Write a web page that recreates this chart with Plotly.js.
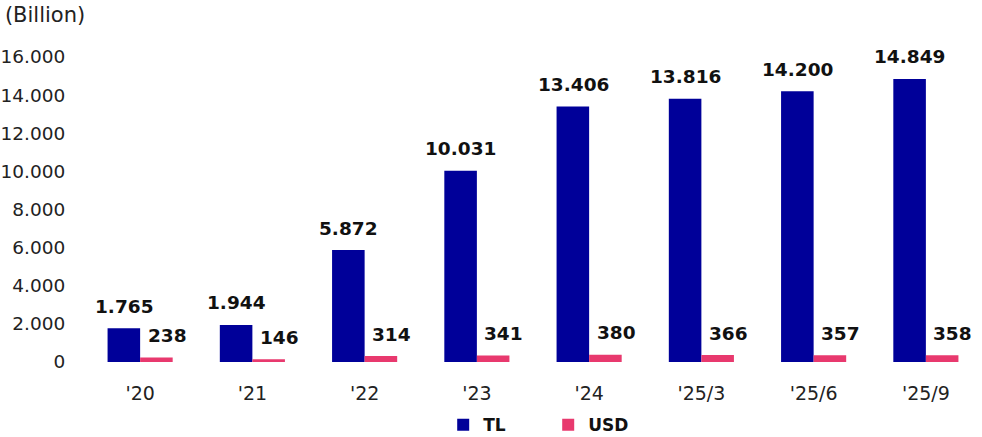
<!DOCTYPE html>
<html>
<head>
<meta charset="utf-8">
<script src="https://cdn.plot.ly/plotly-3.0.1.min.js"></script>
<style>html,body{margin:0;padding:0;background:#fff;}#chart{width:982px;height:437px;}</style>
</head>
<body>
<div id="chart"></div>
<script>
const categories = ["'20", "'21", "'22", "'23", "'24", "'25/3", "'25/6", "'25/9"];
const tlValues = [1765, 1944, 5872, 10031, 13406, 13816, 14200, 14849];
const usdValues = [238, 146, 314, 341, 380, 366, 357, 358];
const yTickVals = [0, 2000, 4000, 6000, 8000, 10000, 12000, 14000, 16000];

const FONT = "DejaVu Sans, Verdana, sans-serif";
const TL_COLOR = "#000099";
const USD_COLOR = "#E8396E";

function fmt(v) {
  return String(v).replace(/\B(?=(\d{3})+(?!\d))/g, ".");
}

const traces = [
  {type: "bar", name: "TL", x: categories, y: tlValues, marker: {color: TL_COLOR}, hoverinfo: "none"},
  {type: "bar", name: "USD", x: categories, y: usdValues, marker: {color: USD_COLOR}, hoverinfo: "none"}
];

const annotations = [];
categories.forEach((c, i) => {
  annotations.push({x: c, y: tlValues[i], xref: "x", yref: "y", text: "<b>" + fmt(tlValues[i]) + "</b>",
    showarrow: false, xanchor: "center", yanchor: "middle", xshift: -16, yshift: 22,
    font: {family: FONT, size: 18.5, color: "#111"}});
  annotations.push({x: c, y: usdValues[i], xref: "x", yref: "y", text: "<b>" + fmt(usdValues[i]) + "</b>",
    showarrow: false, xanchor: "center", yanchor: "middle", xshift: 27, yshift: 22,
    font: {family: FONT, size: 18.5, color: "#111"}});
});

const layout = {
  width: 982, height: 437,
  margin: {l: 84, r: 0, t: 57, b: 75, pad: 0},
  paper_bgcolor: "#fff", plot_bgcolor: "#fff",
  separators: ",.",
  font: {family: FONT, size: 18, color: "#222"},
  barmode: "group", bargap: 0.42, bargroupgap: 0,
  title: {text: "(Billion)", x: 0.005, xanchor: "left", xref: "container", y: 0.966, yanchor: "middle", yref: "container",
    font: {family: FONT, size: 21, color: "#222"}},
  xaxis: {type: "category", showgrid: false, zeroline: false, showline: false,
    ticks: "outside", ticklen: 14, tickcolor: "rgba(0,0,0,0)",
    tickfont: {family: FONT, size: 19, color: "#222"}},
  yaxis: {range: [0, 16000], tickvals: yTickVals, tickformat: ",d", showgrid: false, zeroline: false, showline: false,
    ticks: "outside", ticklen: 14, tickcolor: "rgba(0,0,0,0)",
    tickfont: {family: FONT, size: 18.5, color: "#222"}},
  showlegend: true,
  legend: {orientation: "h", x: 0.4, xanchor: "left", y: 0.027, yanchor: "middle", yref: "container",
    entrywidth: 60, entrywidthmode: "pixels",
    font: {family: FONT, size: 17, color: "#111", weight: "bold"}},
  annotations: annotations
};

Plotly.newPlot("chart", traces, layout, {displayModeBar: false, staticPlot: true});
</script>
</body>
</html>
